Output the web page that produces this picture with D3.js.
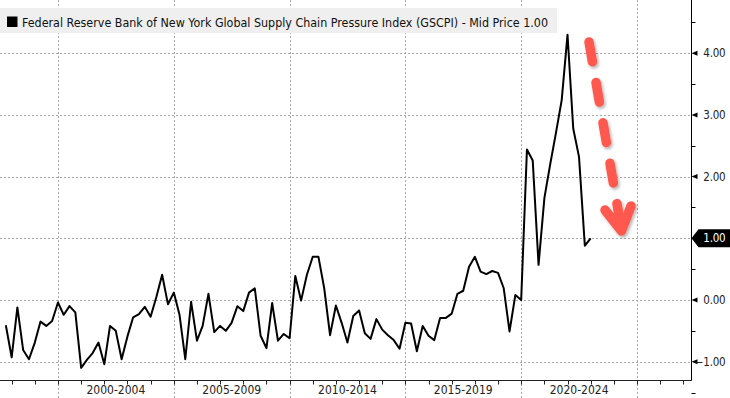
<!DOCTYPE html>
<html>
<head>
<meta charset="utf-8">
<script src="https://cdn.jsdelivr.net/npm/d3@7"></script>
<style>
  body { margin: 0; background: #fff; }
  svg { display: block; font-family: "DejaVu Sans Condensed", "DejaVu Sans", sans-serif; font-stretch: condensed; }
</style>
</head>
<body>
<div class="chart"></div>
<script>
const width = 730
const height = 398

// GSCPI, quarterly, first point Oct 1997
const startDate = new Date(1997, 9, 1)
const gscpi = [
  -0.41, -0.93, -0.12, -0.81, -0.96, -0.69, -0.35, -0.42, -0.34, -0.04,
  -0.24, -0.10, -0.20, -1.10, -0.97, -0.86, -0.69, -1.04, -0.42, -0.50,
  -0.96, -0.59, -0.28, -0.23, -0.11, -0.27, 0.05, 0.41, -0.07, 0.12,
  -0.24, -0.96, -0.03, -0.66, -0.42, 0.10, -0.52, -0.42, -0.50, -0.37,
  -0.10, -0.18, 0.12, 0.19, -0.58, -0.78, -0.05, -0.66, -0.55, -0.62,
  0.39, -0.01, 0.41, 0.70, 0.70, 0.19, -0.57, -0.09, -0.37, -0.69,
  -0.26, -0.17, -0.54, -0.63, -0.31, -0.48, -0.57, -0.65, -0.79, -0.37,
  -0.38, -0.83, -0.42, -0.58, -0.65, -0.29, -0.29, -0.22, 0.10, 0.15,
  0.54, 0.70, 0.46, 0.42, 0.47, 0.44, 0.19, -0.51, 0.08, 0.00,
  2.44, 2.26, 0.57, 1.65, 2.19, 2.70, 3.24, 4.30, 2.78, 2.32,
  0.88, 1.00
]
const periodStarts = [2000, 2005, 2010, 2015, 2020, 2025]
const periodLabels = ["2000-2004", "2005-2009", "2010-2014", "2015-2019", "2020-2024"]
const yTicks = [-1, 0, 1, 2, 3, 4]
const lastValue = 1.00
const legendText = "Federal Reserve Bank of New York Global Supply Chain Pressure Index (GSCPI) - Mid Price 1.00"

const data = gscpi.map((v, i) => ({ date: d3.timeMonth.offset(startDate, 3 * i), value: v }))

const axisX = 691.5
const bottom = 380.5

const x = d3.scaleTime()
  .domain([new Date(1997, 6, 1), new Date(2027, 4, 10)])
  .range([0, axisX])
const y = d3.scaleLinear().domain([-1, 4]).range([361.7, 53.2])

const svg = d3.select('.chart').append('svg')
  .attr("width", width)
  .attr("height", height)

const defs = svg.append("defs")
defs.append("filter").attr("id", "shadow")
  .attr("x", "-50%").attr("y", "-20%").attr("width", "200%").attr("height", "140%")
  .append("feDropShadow")
  .attr("dx", 1.5).attr("dy", 2).attr("stdDeviation", 1.5)
  .attr("flood-color", "#000").attr("flood-opacity", 0.3)

// grid
svg.append("g")
  .selectAll("line")
  .data(yTicks)
  .join("line")
  .attr("x1", 0).attr("x2", axisX)
  .attr("y1", d => Math.round(y(d)) + 0.5).attr("y2", d => Math.round(y(d)) + 0.5)
  .attr("stroke", "#aaa").attr("stroke-dasharray", "2,2")

svg.append("g")
  .selectAll("line")
  .data(periodStarts)
  .join("line")
  .attr("x1", d => Math.round(x(new Date(d, 0, 1))) + 0.5)
  .attr("x2", d => Math.round(x(new Date(d, 0, 1))) + 0.5)
  .attr("y1", 0).attr("y2", height)
  .attr("stroke", "#aaa").attr("stroke-dasharray", "2,2")

// legend
const legend = svg.append("g")
const legendBox = legend.append("rect")
  .attr("x", 0).attr("y", 8).attr("height", 25)
  .attr("fill", "#efefef")
legend.append("rect")
  .attr("x", 7).attr("y", 16.5).attr("width", 10.5).attr("height", 10.5)
  .attr("fill", "#000")
legend.append("text")
  .attr("x", 22).attr("y", 26.5)
  .attr("font-size", 12.5)
  .attr("fill", "#111")
  .attr("textLength", 526)
  .attr("lengthAdjust", "spacingAndGlyphs")
  .text(legendText)
legendBox.attr("width", 22 + 526 + 9)

// series
svg.append("path")
  .datum(data)
  .attr("fill", "none")
  .attr("stroke", "#000")
  .attr("stroke-width", 2)
  .attr("stroke-linejoin", "round")
  .attr("d", d3.line().x(d => x(d.date)).y(d => y(d.value)))

// axes
svg.append("line")
  .attr("x1", 0).attr("x2", axisX).attr("y1", bottom).attr("y2", bottom)
  .attr("stroke", "#222")
svg.append("line")
  .attr("x1", axisX).attr("x2", axisX).attr("y1", 0).attr("y2", bottom)
  .attr("stroke", "#000")

svg.append("g")
  .selectAll("line")
  .data(d3.range(1998, 2028))
  .join("line")
  .attr("x1", d => Math.round(x(new Date(d, 0, 1))) + 0.5)
  .attr("x2", d => Math.round(x(new Date(d, 0, 1))) + 0.5)
  .attr("y1", bottom).attr("y2", bottom + 4)
  .attr("stroke", "#222")

svg.append("g")
  .selectAll("text")
  .data(periodLabels)
  .join("text")
  .attr("x", (d, i) => (x(new Date(periodStarts[i], 0, 1)) + x(new Date(periodStarts[i + 1], 0, 1))) / 2)
  .attr("y", 394)
  .attr("text-anchor", "middle")
  .attr("font-size", 12)
  .attr("fill", "#222")
  .text(d => d)

svg.append("g")
  .selectAll("line")
  .data(d3.range(-1.5, 5, 1))
  .join("line")
  .attr("x1", axisX).attr("x2", axisX + 4)
  .attr("y1", d => Math.round(y(d)) + 0.5).attr("y2", d => Math.round(y(d)) + 0.5)
  .attr("stroke", "#000")

const yLabels = yTicks.filter(d => d !== lastValue)
svg.append("g")
  .selectAll("path")
  .data(yLabels)
  .join("path")
  .attr("d", d => `M${axisX},${y(d)}L${axisX + 6},${y(d) - 2.5}L${axisX + 6},${y(d) + 2.5}Z`)
  .attr("fill", "#000")

svg.append("g")
  .selectAll("text")
  .data(yLabels)
  .join("text")
  .attr("x", 725.5).attr("y", d => y(d) + 4)
  .attr("text-anchor", "end")
  .attr("font-size", 11.5)
  .attr("letter-spacing", -0.2)
  .attr("fill", "#222")
  .text(d => d3.format(".2f")(d))

// last value flag
const ly = y(lastValue)
svg.append("path")
  .attr("d", `M${axisX},${ly}L${axisX + 7},${ly - 9}L${width},${ly - 9}L${width},${ly + 9}L${axisX + 7},${ly + 9}Z`)
  .attr("fill", "#000")
svg.append("text")
  .attr("x", 725.5).attr("y", ly + 4)
  .attr("text-anchor", "end")
  .attr("font-size", 11.5)
  .attr("letter-spacing", -0.2)
  .attr("fill", "#fff")
  .text(d3.format(".2f")(lastValue))

// red arrow annotation
const arrow = svg.append("g")
  .attr("filter", "url(#shadow)")
  .attr("stroke", "#ff594f")
  .attr("fill", "none")
  .attr("stroke-width", 9.5)
  .attr("stroke-linecap", "round")
  .attr("stroke-linejoin", "round")
arrow.append("line")
  .attr("x1", 589).attr("y1", 42).attr("x2", 621.5).attr("y2", 230)
  .attr("stroke-dasharray", "20,21")
arrow.append("path")
  .attr("d", "M605,210L621.5,231L631,206")
</script>
</body>
</html>
